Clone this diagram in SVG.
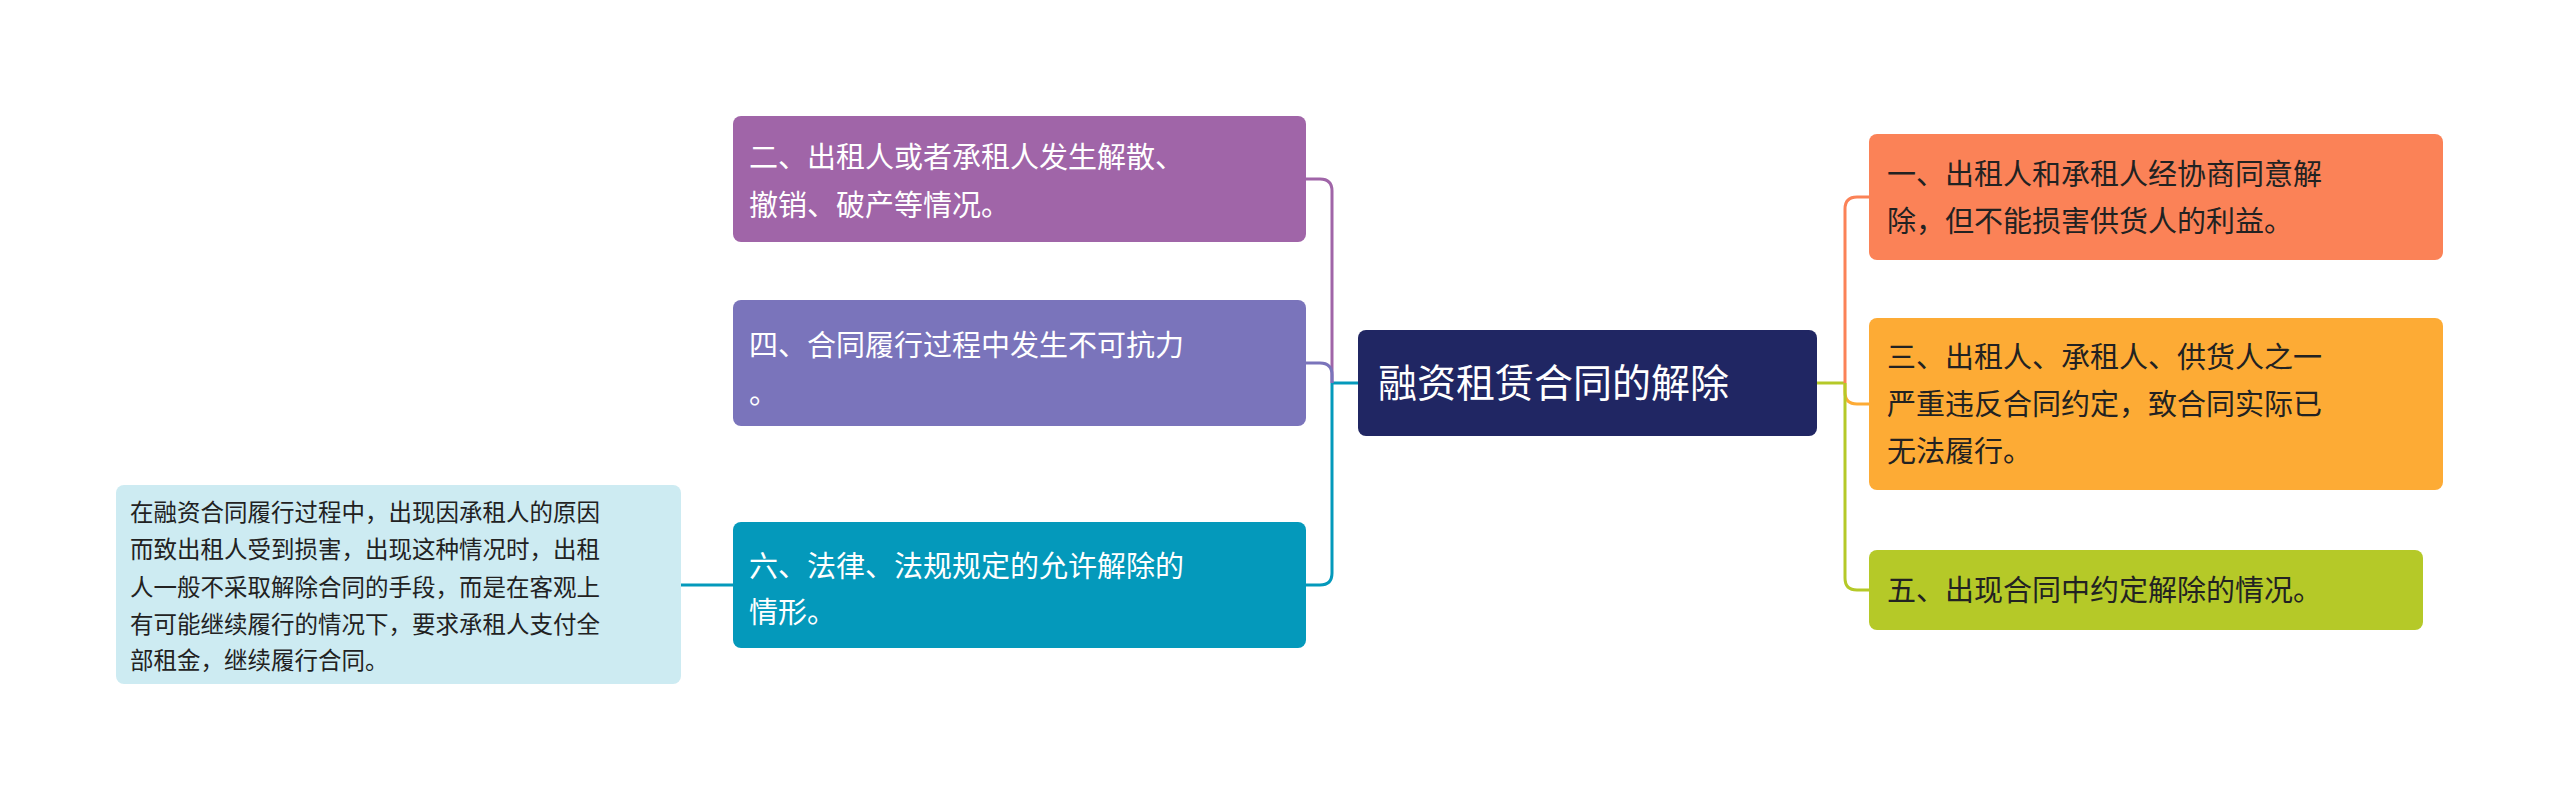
<svg xmlns="http://www.w3.org/2000/svg" width="2560" height="802" viewBox="0 0 2560 802">
<style>
text{font-family:"Noto Sans CJK SC","Noto Sans",sans-serif;fill:#fff;font-size:29px}
.n text{font-size:29px}
.note text{font-size:23.5px;fill:#222}
.dk text{fill:#222}
path{fill:none;stroke-width:3}
</style>
<rect width="2560" height="802" fill="#fff"/>
<g id="connectors">
<path d="M1358 383 H1332" stroke="#0499bb"/>
<path d="M1332 383 V191 Q1332 179 1320 179 H1306" stroke="#a065a8"/>
<path d="M1332 383 V375 Q1332 363 1320 363 H1306" stroke="#7a74bb"/>
<path d="M1332 383 V573 Q1332 585 1320 585 H1306" stroke="#0499bb"/>
<path d="M733 585 H681" stroke="#0499bb"/>
<path d="M1817 383 H1845" stroke="#b5c928"/>
<path d="M1845 383 V209 Q1845 197 1857 197 H1869" stroke="#fb8257"/>
<path d="M1845 383 V392 Q1845 404 1857 404 H1869" stroke="#fdab35"/>
<path d="M1845 383 V578 Q1845 590 1857 590 H1869" stroke="#b5c928"/>
</g>
<g id="center"><rect x="1358" y="330" width="459" height="106" rx="8" fill="#202663"/><text x="1378" y="397" style="font-size:39px">融资租赁合同的解除</text></g>
<g id="n2"><rect x="733" y="116" width="573" height="126" rx="8" fill="#a065a8"/><text x="749" y="168">二、出租人或者承租人发生解散、</text><text x="749" y="216">撤销、破产等情况。</text></g>
<g id="n4"><rect x="733" y="300" width="573" height="126" rx="8" fill="#7a74bb"/><text x="749" y="356">四、合同履行过程中发生不可抗力</text><text x="749" y="404">。</text></g>
<g id="n6"><rect x="733" y="522" width="573" height="126" rx="8" fill="#0499bb"/><text x="749" y="577">六、法律、法规规定的允许解除的</text><text x="749" y="623">情形。</text></g>
<g id="note" class="note"><rect x="116" y="485" width="565" height="199" rx="8" fill="#cdebf2"/>
<text x="130" y="521">在融资合同履行过程中，出现因承租人的原因</text>
<text x="130" y="558">而致出租人受到损害，出现这种情况时，出租</text>
<text x="130" y="596">人一般不采取解除合同的手段，而是在客观上</text>
<text x="130" y="633">有可能继续履行的情况下，要求承租人支付全</text>
<text x="130" y="669">部租金，继续履行合同。</text></g>
<g id="n1" class="dk"><rect x="1869" y="134" width="574" height="126" rx="8" fill="#fb8257"/><text x="1887" y="185">一、出租人和承租人经协商同意解</text><text x="1887" y="232">除，但不能损害供货人的利益。</text></g>
<g id="n3" class="dk"><rect x="1869" y="318" width="574" height="172" rx="8" fill="#fdab35"/><text x="1887" y="368">三、出租人、承租人、供货人之一</text><text x="1887" y="415">严重违反合同约定，致合同实际已</text><text x="1887" y="462">无法履行。</text></g>
<g id="n5" class="dk"><rect x="1869" y="550" width="554" height="80" rx="8" fill="#b5c928"/><text x="1887" y="601">五、出现合同中约定解除的情况。</text></g>
</svg>
